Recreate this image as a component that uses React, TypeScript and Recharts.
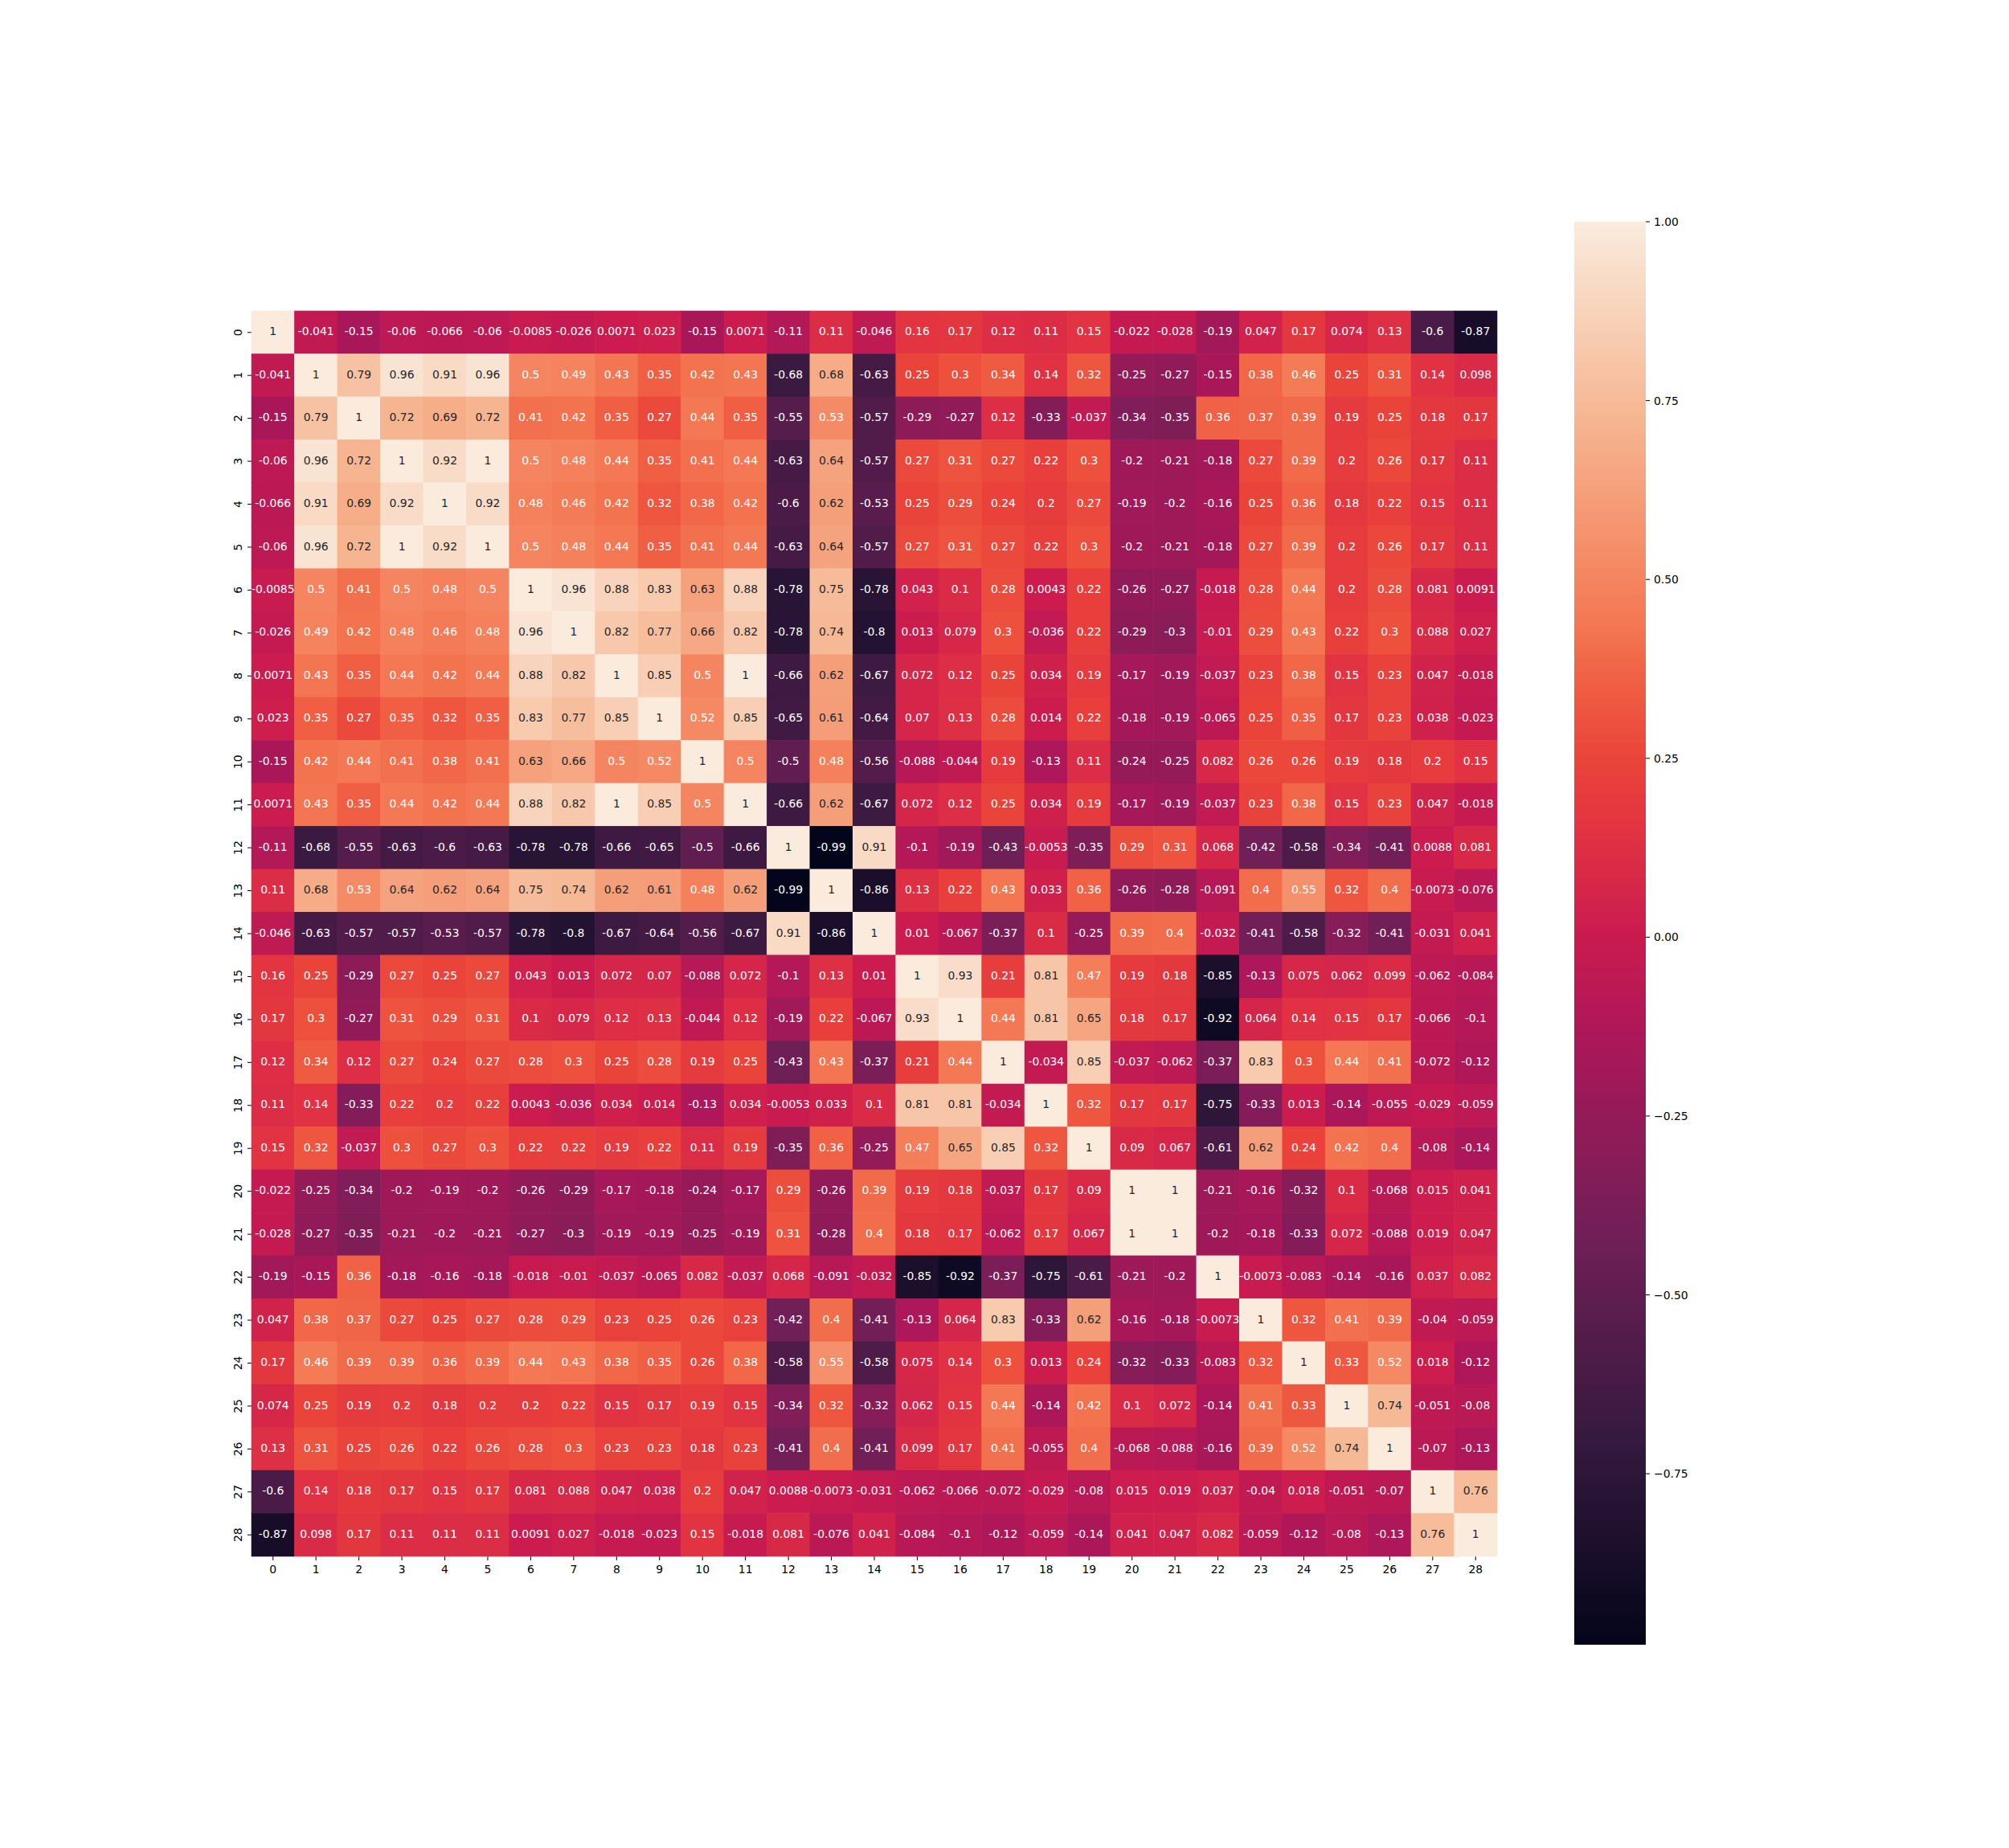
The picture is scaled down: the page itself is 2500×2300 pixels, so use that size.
import React from "react";
import { ScatterChart, Scatter, XAxis, YAxis, ComposedChart, ReferenceArea } from "recharts";

// feature labels (same for rows and columns)
const labels = [
  "0", "1", "2", "3", "4", "5", "6", "7", "8", "9", "10", "11", "12", "13", "14",
  "15", "16", "17", "18", "19", "20", "21", "22", "23", "24", "25", "26", "27", "28",
];

// correlation rows
const row0 = [1, -0.041, -0.15, -0.06, -0.066, -0.06, -0.0085, -0.026, 0.0071, 0.023, -0.15, 0.0071, -0.11, 0.11, -0.046, 0.16, 0.17, 0.12, 0.11, 0.15, -0.022, -0.028, -0.19, 0.047, 0.17, 0.074, 0.13, -0.6, -0.87];
const row1 = [-0.041, 1, 0.79, 0.96, 0.91, 0.96, 0.5, 0.49, 0.43, 0.35, 0.42, 0.43, -0.68, 0.68, -0.63, 0.25, 0.3, 0.34, 0.14, 0.32, -0.25, -0.27, -0.15, 0.38, 0.46, 0.25, 0.31, 0.14, 0.098];
const row2 = [-0.15, 0.79, 1, 0.72, 0.69, 0.72, 0.41, 0.42, 0.35, 0.27, 0.44, 0.35, -0.55, 0.53, -0.57, -0.29, -0.27, 0.12, -0.33, -0.037, -0.34, -0.35, 0.36, 0.37, 0.39, 0.19, 0.25, 0.18, 0.17];
const row3 = [-0.06, 0.96, 0.72, 1, 0.92, 1, 0.5, 0.48, 0.44, 0.35, 0.41, 0.44, -0.63, 0.64, -0.57, 0.27, 0.31, 0.27, 0.22, 0.3, -0.2, -0.21, -0.18, 0.27, 0.39, 0.2, 0.26, 0.17, 0.11];
const row4 = [-0.066, 0.91, 0.69, 0.92, 1, 0.92, 0.48, 0.46, 0.42, 0.32, 0.38, 0.42, -0.6, 0.62, -0.53, 0.25, 0.29, 0.24, 0.2, 0.27, -0.19, -0.2, -0.16, 0.25, 0.36, 0.18, 0.22, 0.15, 0.11];
const row5 = [-0.06, 0.96, 0.72, 1, 0.92, 1, 0.5, 0.48, 0.44, 0.35, 0.41, 0.44, -0.63, 0.64, -0.57, 0.27, 0.31, 0.27, 0.22, 0.3, -0.2, -0.21, -0.18, 0.27, 0.39, 0.2, 0.26, 0.17, 0.11];
const row6 = [-0.0085, 0.5, 0.41, 0.5, 0.48, 0.5, 1, 0.96, 0.88, 0.83, 0.63, 0.88, -0.78, 0.75, -0.78, 0.043, 0.1, 0.28, 0.0043, 0.22, -0.26, -0.27, -0.018, 0.28, 0.44, 0.2, 0.28, 0.081, 0.0091];
const row7 = [-0.026, 0.49, 0.42, 0.48, 0.46, 0.48, 0.96, 1, 0.82, 0.77, 0.66, 0.82, -0.78, 0.74, -0.8, 0.013, 0.079, 0.3, -0.036, 0.22, -0.29, -0.3, -0.01, 0.29, 0.43, 0.22, 0.3, 0.088, 0.027];
const row8 = [0.0071, 0.43, 0.35, 0.44, 0.42, 0.44, 0.88, 0.82, 1, 0.85, 0.5, 1, -0.66, 0.62, -0.67, 0.072, 0.12, 0.25, 0.034, 0.19, -0.17, -0.19, -0.037, 0.23, 0.38, 0.15, 0.23, 0.047, -0.018];
const row9 = [0.023, 0.35, 0.27, 0.35, 0.32, 0.35, 0.83, 0.77, 0.85, 1, 0.52, 0.85, -0.65, 0.61, -0.64, 0.07, 0.13, 0.28, 0.014, 0.22, -0.18, -0.19, -0.065, 0.25, 0.35, 0.17, 0.23, 0.038, -0.023];
const row10 = [-0.15, 0.42, 0.44, 0.41, 0.38, 0.41, 0.63, 0.66, 0.5, 0.52, 1, 0.5, -0.5, 0.48, -0.56, -0.088, -0.044, 0.19, -0.13, 0.11, -0.24, -0.25, 0.082, 0.26, 0.26, 0.19, 0.18, 0.2, 0.15];
const row11 = [0.0071, 0.43, 0.35, 0.44, 0.42, 0.44, 0.88, 0.82, 1, 0.85, 0.5, 1, -0.66, 0.62, -0.67, 0.072, 0.12, 0.25, 0.034, 0.19, -0.17, -0.19, -0.037, 0.23, 0.38, 0.15, 0.23, 0.047, -0.018];
const row12 = [-0.11, -0.68, -0.55, -0.63, -0.6, -0.63, -0.78, -0.78, -0.66, -0.65, -0.5, -0.66, 1, -0.99, 0.91, -0.1, -0.19, -0.43, -0.0053, -0.35, 0.29, 0.31, 0.068, -0.42, -0.58, -0.34, -0.41, 0.0088, 0.081];
const row13 = [0.11, 0.68, 0.53, 0.64, 0.62, 0.64, 0.75, 0.74, 0.62, 0.61, 0.48, 0.62, -0.99, 1, -0.86, 0.13, 0.22, 0.43, 0.033, 0.36, -0.26, -0.28, -0.091, 0.4, 0.55, 0.32, 0.4, -0.0073, -0.076];
const row14 = [-0.046, -0.63, -0.57, -0.57, -0.53, -0.57, -0.78, -0.8, -0.67, -0.64, -0.56, -0.67, 0.91, -0.86, 1, 0.01, -0.067, -0.37, 0.1, -0.25, 0.39, 0.4, -0.032, -0.41, -0.58, -0.32, -0.41, -0.031, 0.041];
const row15 = [0.16, 0.25, -0.29, 0.27, 0.25, 0.27, 0.043, 0.013, 0.072, 0.07, -0.088, 0.072, -0.1, 0.13, 0.01, 1, 0.93, 0.21, 0.81, 0.47, 0.19, 0.18, -0.85, -0.13, 0.075, 0.062, 0.099, -0.062, -0.084];
const row16 = [0.17, 0.3, -0.27, 0.31, 0.29, 0.31, 0.1, 0.079, 0.12, 0.13, -0.044, 0.12, -0.19, 0.22, -0.067, 0.93, 1, 0.44, 0.81, 0.65, 0.18, 0.17, -0.92, 0.064, 0.14, 0.15, 0.17, -0.066, -0.1];
const row17 = [0.12, 0.34, 0.12, 0.27, 0.24, 0.27, 0.28, 0.3, 0.25, 0.28, 0.19, 0.25, -0.43, 0.43, -0.37, 0.21, 0.44, 1, -0.034, 0.85, -0.037, -0.062, -0.37, 0.83, 0.3, 0.44, 0.41, -0.072, -0.12];
const row18 = [0.11, 0.14, -0.33, 0.22, 0.2, 0.22, 0.0043, -0.036, 0.034, 0.014, -0.13, 0.034, -0.0053, 0.033, 0.1, 0.81, 0.81, -0.034, 1, 0.32, 0.17, 0.17, -0.75, -0.33, 0.013, -0.14, -0.055, -0.029, -0.059];
const row19 = [0.15, 0.32, -0.037, 0.3, 0.27, 0.3, 0.22, 0.22, 0.19, 0.22, 0.11, 0.19, -0.35, 0.36, -0.25, 0.47, 0.65, 0.85, 0.32, 1, 0.09, 0.067, -0.61, 0.62, 0.24, 0.42, 0.4, -0.08, -0.14];
const row20 = [-0.022, -0.25, -0.34, -0.2, -0.19, -0.2, -0.26, -0.29, -0.17, -0.18, -0.24, -0.17, 0.29, -0.26, 0.39, 0.19, 0.18, -0.037, 0.17, 0.09, 1, 1, -0.21, -0.16, -0.32, 0.1, -0.068, 0.015, 0.041];
const row21 = [-0.028, -0.27, -0.35, -0.21, -0.2, -0.21, -0.27, -0.3, -0.19, -0.19, -0.25, -0.19, 0.31, -0.28, 0.4, 0.18, 0.17, -0.062, 0.17, 0.067, 1, 1, -0.2, -0.18, -0.33, 0.072, -0.088, 0.019, 0.047];
const row22 = [-0.19, -0.15, 0.36, -0.18, -0.16, -0.18, -0.018, -0.01, -0.037, -0.065, 0.082, -0.037, 0.068, -0.091, -0.032, -0.85, -0.92, -0.37, -0.75, -0.61, -0.21, -0.2, 1, -0.0073, -0.083, -0.14, -0.16, 0.037, 0.082];
const row23 = [0.047, 0.38, 0.37, 0.27, 0.25, 0.27, 0.28, 0.29, 0.23, 0.25, 0.26, 0.23, -0.42, 0.4, -0.41, -0.13, 0.064, 0.83, -0.33, 0.62, -0.16, -0.18, -0.0073, 1, 0.32, 0.41, 0.39, -0.04, -0.059];
const row24 = [0.17, 0.46, 0.39, 0.39, 0.36, 0.39, 0.44, 0.43, 0.38, 0.35, 0.26, 0.38, -0.58, 0.55, -0.58, 0.075, 0.14, 0.3, 0.013, 0.24, -0.32, -0.33, -0.083, 0.32, 1, 0.33, 0.52, 0.018, -0.12];
const row25 = [0.074, 0.25, 0.19, 0.2, 0.18, 0.2, 0.2, 0.22, 0.15, 0.17, 0.19, 0.15, -0.34, 0.32, -0.32, 0.062, 0.15, 0.44, -0.14, 0.42, 0.1, 0.072, -0.14, 0.41, 0.33, 1, 0.74, -0.051, -0.08];
const row26 = [0.13, 0.31, 0.25, 0.26, 0.22, 0.26, 0.28, 0.3, 0.23, 0.23, 0.18, 0.23, -0.41, 0.4, -0.41, 0.099, 0.17, 0.41, -0.055, 0.4, -0.068, -0.088, -0.16, 0.39, 0.52, 0.74, 1, -0.07, -0.13];
const row27 = [-0.6, 0.14, 0.18, 0.17, 0.15, 0.17, 0.081, 0.088, 0.047, 0.038, 0.2, 0.047, 0.0088, -0.0073, -0.031, -0.062, -0.066, -0.072, -0.029, -0.08, 0.015, 0.019, 0.037, -0.04, 0.018, -0.051, -0.07, 1, 0.76];
const row28 = [-0.87, 0.098, 0.17, 0.11, 0.11, 0.11, 0.0091, 0.027, -0.018, -0.023, 0.15, -0.018, 0.081, -0.076, 0.041, -0.084, -0.1, -0.12, -0.059, -0.14, 0.041, 0.047, 0.082, -0.059, -0.12, -0.08, -0.13, 0.76, 1];

const rows = [
  row0, row1, row2, row3, row4, row5, row6, row7, row8, row9, row10, row11, row12, row13, row14,
  row15, row16, row17, row18, row19, row20, row21, row22, row23, row24, row25, row26, row27, row28,
];

const colorbarTicks = [-0.75, -0.5, -0.25, 0, 0.25, 0.5, 0.75, 1];
const vmin = -0.989;
const vmax = 1;

// seaborn "rocket" approximated by a few anchor colours
const rocket: [number, [number, number, number]][] = [
  [0, [3, 5, 26]],
  [1 / 7, [53, 25, 62]],
  [2 / 7, [112, 31, 87]],
  [3 / 7, [173, 23, 89]],
  [0.5, [203, 27, 79]],
  [4 / 7, [225, 51, 66]],
  [0.62, [234, 67, 58]],
  [0.667, [239, 90, 65]],
  [5 / 7, [243, 118, 81]],
  [6 / 7, [246, 180, 143]],
  [1, [250, 235, 221]],
];

function rocketRgb(t: number): [number, number, number] {
  const tt = Math.max(0, Math.min(1, t));
  for (let i = 1; i < rocket.length; i++) {
    const [t1, c1] = rocket[i];
    const [t0, c0] = rocket[i - 1];
    if (tt <= t1) {
      const f = (tt - t0) / (t1 - t0);
      return [0, 1, 2].map((k) => c0[k] + (c1[k] - c0[k]) * f) as [number, number, number];
    }
  }
  return rocket[rocket.length - 1][1];
}

const toHex = (c: number[]) => "#" + c.map((v) => Math.round(v).toString(16).padStart(2, "0")).join("");
const colorOf = (v: number) => toHex(rocketRgb((v - vmin) / (vmax - vmin)));

// same rule seaborn uses to pick annotation colour
function textColor(v: number) {
  const c = rocketRgb((v - vmin) / (vmax - vmin)).map((x) => {
    const s = x / 255;
    return s <= 0.03928 ? s / 12.92 : Math.pow((s + 0.055) / 1.055, 2.4);
  });
  const lum = 0.2126 * c[0] + 0.7152 * c[1] + 0.0722 * c[2];
  return lum > 0.408 ? "#262626" : "#ffffff";
}

const cells = rows.flatMap((r, i) => r.map((v, j) => ({ x: j + 0.5, y: i + 0.5, v })));
const tickPos = labels.map((_, i) => i + 0.5);

const FONT = "DejaVu Sans";
const PLOT = 1550;
const cell = PLOT / labels.length;

function CellShape(props: any) {
  const { cx, cy, payload } = props;
  return (
    <g>
      <rect
        x={cx - cell / 2 - 0.3}
        y={cy - cell / 2 - 0.3}
        width={cell + 0.6}
        height={cell + 0.6}
        fill={colorOf(payload.v)}
      />
      <text x={cx} y={cy} dy={3.6} textAnchor="middle" fontFamily={FONT} fontSize={13.9} fill={textColor(payload.v)}>
        {String(payload.v)}
      </text>
    </g>
  );
}

function XTick(props: any) {
  const { x, y, payload } = props;
  return (
    <text x={x} y={y} dy="0.76em" textAnchor="middle" fontFamily={FONT} fontSize={13.9} fill="#000">
      {labels[Math.floor(payload.value)]}
    </text>
  );
}

function YTick(props: any) {
  const { x, y, payload } = props;
  return (
    <text x={x} y={y} textAnchor="middle" transform={`rotate(-90, ${x}, ${y})`} fontFamily={FONT} fontSize={13.9} fill="#000">
      {labels[Math.floor(payload.value)]}
    </text>
  );
}

function CbTick(props: any) {
  const { x, y, payload } = props;
  const s = payload.value.toFixed(2).replace("-", "\u2212");
  return (
    <text x={x} y={y} dy="0.36em" textAnchor="start" fontFamily={FONT} fontSize={13.9} fill="#000">
      {s}
    </text>
  );
}

export default function App() {
  return (
    <div style={{ position: "absolute", left: 0, top: 0, width: 2500, height: 2300, background: "#fff" }}>
      <div style={{ position: "absolute", left: 0, top: 0 }}>
        <ScatterChart width={2500} height={2300} margin={{ top: 387, right: 637, bottom: 333, left: 253 }}>
          <XAxis
            type="number"
            dataKey="x"
            domain={[0, labels.length]}
            ticks={tickPos}
            interval={0}
            axisLine={false}
            tickSize={5}
            tickMargin={5}
            tickLine={{ stroke: "#000", strokeWidth: 1 }}
            tick={<XTick />}
            height={30}
          />
          <YAxis
            type="number"
            dataKey="y"
            domain={[0, labels.length]}
            reversed
            ticks={tickPos}
            interval={0}
            axisLine={false}
            tickSize={5}
            tickMargin={7}
            tickLine={{ stroke: "#000", strokeWidth: 1 }}
            tick={<YTick />}
            width={60}
          />
          <Scatter data={cells} shape={<CellShape />} isAnimationActive={false} />
        </ScatterChart>
      </div>
      <div style={{ position: "absolute", left: 1900, top: 0 }}>
        <ComposedChart width={300} height={2300} data={[{ x: 0 }, { x: 1 }]} margin={{ top: 276, right: 92, bottom: 253, left: 59 }}>
          <defs>
            <linearGradient id="rocketGrad" x1="0" y1="1" x2="0" y2="0">
              {rocket.map(([t, c]) => (
                <stop key={t} offset={t} stopColor={toHex(c)} />
              ))}
            </linearGradient>
          </defs>
          <XAxis type="number" dataKey="x" domain={[0, 1]} hide />
          <YAxis
            type="number"
            orientation="right"
            domain={[vmin, vmax]}
            ticks={colorbarTicks}
            interval={0}
            axisLine={false}
            tickSize={5}
            tickMargin={5}
            tickLine={{ stroke: "#000", strokeWidth: 1 }}
            tick={<CbTick />}
            width={60}
            allowDataOverflow
          />
          <ReferenceArea x1={0} x2={1} y1={vmin} y2={vmax} fill="url(#rocketGrad)" fillOpacity={1} stroke="none" />
        </ComposedChart>
      </div>
    </div>
  );
}
